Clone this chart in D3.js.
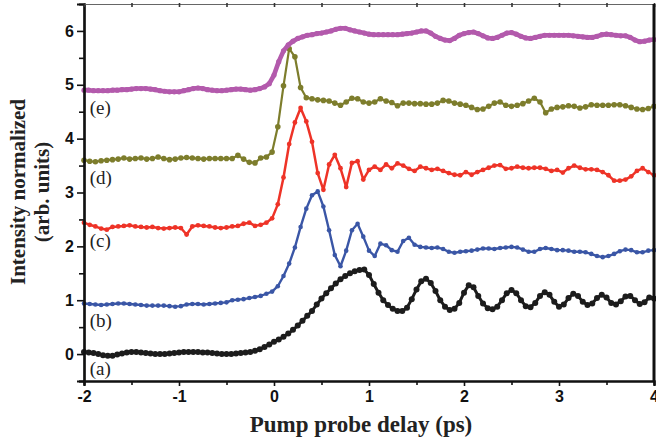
<!DOCTYPE html>
<html>
<head>
<meta charset="utf-8">
<script src="https://cdn.jsdelivr.net/npm/d3@7"></script>
<style>
    body { margin: 0; background: #fff; }
    svg { display: block; }
</style>
</head>
<body>
<div id="chart"></div>
<script>

// delay grids (ps) - each trace is sampled on a regular delay grid
const gridA = { start: -2, step: 0.05 };
const gridB = { start: -2, step: 0.06 };
const gridC = { start: -2, step: 0.06 };
const gridD = { start: -2, step: 0.06 };
const gridE = { start: -2, step: 0.05 };

// (a) black
const traceA = [
    0.04, 0.03, 0.02, 0.00, -0.02, -0.03, -0.03, -0.01, 0.01, 0.03,
    0.04, 0.04, 0.03, 0.02, 0.01, 0.00, 0.00, 0.00, 0.01, 0.02,
    0.03, 0.04, 0.04, 0.04, 0.04, 0.03, 0.03, 0.02, 0.01, 0.00,
    0.00, 0.00, 0.01, 0.02, 0.03, 0.04, 0.06, 0.09, 0.13, 0.18,
    0.23, 0.27, 0.32, 0.38, 0.45, 0.53, 0.62, 0.71, 0.80, 0.92,
    1.03, 1.13, 1.22, 1.31, 1.39, 1.45, 1.50, 1.54, 1.56, 1.57,
    1.47, 1.30, 1.14, 1.00, 0.91, 0.84, 0.80, 0.80, 0.86, 1.02,
    1.20, 1.35, 1.40, 1.32, 1.17, 1.00, 0.88, 0.82, 0.84, 0.95,
    1.14, 1.28, 1.24, 1.08, 0.94, 0.85, 0.83, 0.88, 1.00, 1.13,
    1.19, 1.13, 1.00, 0.89, 0.87, 0.95, 1.08, 1.15, 1.10, 0.97,
    0.88, 0.92, 1.04, 1.12, 1.08, 0.97, 0.91, 0.94, 1.04, 1.10,
    1.05, 0.95, 0.92, 0.98, 1.07, 1.08, 1.00, 0.93, 0.96, 1.05,
    1.03
];

// (b) blue
const traceB = [
    0.94, 0.93, 0.92, 0.91, 0.92, 0.93, 0.94, 0.94, 0.93, 0.92,
    0.91, 0.90, 0.90, 0.90, 0.90, 0.89, 0.88, 0.89, 0.92, 0.93,
    0.93, 0.92, 0.93, 0.94, 0.95, 0.96, 1.00, 1.01, 1.02, 1.04,
    1.06, 1.08, 1.12, 1.16, 1.26, 1.45, 1.68, 1.98, 2.36, 2.70,
    2.95, 3.02, 2.74, 2.30, 1.84, 1.63, 1.92, 2.30, 2.42, 2.18,
    1.92, 1.82, 2.05, 2.02, 1.93, 1.90, 2.10, 2.16, 2.03, 1.99,
    1.98, 1.97, 1.98, 1.95, 1.90, 1.88, 1.90, 1.91, 1.92, 1.94,
    1.96, 1.96, 1.95, 1.97, 1.98, 1.99, 1.98, 1.94, 1.90, 1.90,
    1.95, 1.97, 1.95, 1.93, 1.93, 1.92, 1.90, 1.90, 1.89, 1.86,
    1.82, 1.80, 1.82, 1.86, 1.91, 1.94, 1.93, 1.89, 1.89, 1.92,
    1.93
];

// (c) red
const traceC = [
    2.44, 2.40, 2.37, 2.33, 2.31, 2.36, 2.37, 2.38, 2.39, 2.37,
    2.36, 2.35, 2.36, 2.34, 2.33, 2.34, 2.35, 2.34, 2.22, 2.37,
    2.39, 2.38, 2.37, 2.35, 2.34, 2.35, 2.37, 2.38, 2.42, 2.44,
    2.38, 2.40, 2.44, 2.52, 2.78, 3.28, 3.90, 4.30, 4.57, 4.32,
    3.94, 3.36, 3.05, 3.52, 3.70, 3.45, 3.10, 3.55, 3.58, 3.24,
    3.42, 3.48, 3.42, 3.52, 3.45, 3.54, 3.50, 3.44, 3.40, 3.48,
    3.45, 3.42, 3.44, 3.40, 3.36, 3.33, 3.32, 3.38, 3.33, 3.38,
    3.42, 3.46, 3.50, 3.51, 3.44, 3.45, 3.48, 3.46, 3.45, 3.46,
    3.46, 3.44, 3.40, 3.42, 3.37, 3.45, 3.50, 3.46, 3.43, 3.43,
    3.42, 3.38, 3.32, 3.22, 3.22, 3.24, 3.30, 3.40, 3.45, 3.38,
    3.32
];

// (d) olive
const traceD = [
    3.60, 3.58, 3.57, 3.59, 3.60, 3.61, 3.62, 3.64, 3.62, 3.63,
    3.64, 3.62, 3.63, 3.66, 3.63, 3.61, 3.62, 3.64, 3.65, 3.64,
    3.63, 3.62, 3.63, 3.63, 3.63, 3.63, 3.63, 3.69, 3.62, 3.56,
    3.55, 3.64, 3.66, 3.75, 4.22, 4.98, 5.67, 5.52, 4.95, 4.76,
    4.74, 4.72, 4.71, 4.70, 4.66, 4.62, 4.68, 4.75, 4.74, 4.68,
    4.66, 4.68, 4.74, 4.70, 4.67, 4.61, 4.66, 4.66, 4.65, 4.65,
    4.64, 4.64, 4.66, 4.71, 4.70, 4.66, 4.64, 4.62, 4.58, 4.54,
    4.55, 4.60, 4.66, 4.68, 4.62, 4.60, 4.62, 4.65, 4.70, 4.75,
    4.68, 4.48, 4.55, 4.58, 4.59, 4.61, 4.60, 4.57, 4.59, 4.63,
    4.62, 4.62, 4.62, 4.63, 4.63, 4.61, 4.58, 4.55, 4.54, 4.56,
    4.60
];

// (e) magenta
const traceE = [
    4.90, 4.90, 4.89, 4.89, 4.89, 4.89, 4.90, 4.90, 4.91, 4.91,
    4.92, 4.93, 4.93, 4.93, 4.92, 4.91, 4.89, 4.88, 4.87, 4.87,
    4.87, 4.89, 4.91, 4.93, 4.94, 4.93, 4.91, 4.90, 4.89, 4.89,
    4.90, 4.91, 4.92, 4.92, 4.91, 4.90, 4.91, 4.93, 4.96, 5.02,
    5.18, 5.43, 5.63, 5.74, 5.81, 5.86, 5.89, 5.92, 5.93, 5.95,
    5.96, 5.98, 6.00, 6.03, 6.05, 6.05, 6.02, 6.00, 5.98, 5.96,
    5.94, 5.93, 5.93, 5.93, 5.93, 5.93, 5.93, 5.94, 5.95, 5.96,
    5.98, 6.00, 6.00, 5.96, 5.90, 5.86, 5.83, 5.82, 5.86, 5.92,
    5.95, 5.97, 5.98, 5.95, 5.91, 5.87, 5.86, 5.88, 5.92, 5.96,
    5.97, 5.94, 5.90, 5.87, 5.86, 5.88, 5.90, 5.92, 5.92, 5.92,
    5.92, 5.92, 5.92, 5.91, 5.90, 5.89, 5.88, 5.88, 5.90, 5.93,
    5.94, 5.93, 5.92, 5.91, 5.91, 5.88, 5.83, 5.80, 5.81, 5.83,
    5.84
];

const seriesLabels = ["(a)", "(b)", "(c)", "(d)", "(e)"];
const xTicks = [-2, -1, 0, 1, 2, 3, 4];
const yTicks = [0, 1, 2, 3, 4, 5, 6];


const width = 656;
const height = 444;

const svg = d3.select("#chart")
    .append("svg")
    .attr("width", width)
    .attr("height", height);

const x = d3.scaleLinear().domain([-2, 4]).range([84, 654]);
const y = d3.scaleLinear().domain([-0.5, 6.5]).range([381, 4]);


function toPoints(values, grid) {
    return values.map((v, i) => ({ t: grid.start + i * grid.step, v: v }));
}

const traces = [
    { name: "a", data: toPoints(traceA, gridA), color: "#1c1c1c", lw: 3, r: 3 },
    { name: "b", data: toPoints(traceB, gridB), color: "#3a56a6", lw: 2.4, r: 2.3 },
    { name: "c", data: toPoints(traceC, gridC), color: "#ee3327", lw: 2.5, r: 2.4 },
    { name: "d", data: toPoints(traceD, gridD), color: "#7d7d2c", lw: 2.2, r: 2.8 },
    { name: "e", data: toPoints(traceE, gridE), color: "#b35aac", lw: 4.6, r: 2.6 }
];

const line = d3.line()
    .x(d => x(d.t))
    .y(d => y(d.v));

const plot = svg.append("g").attr("id", "traces");

traces.forEach(tr => {
    const g = plot.append("g").attr("class", "trace-" + tr.name);

    g.append("path")
        .datum(tr.data)
        .attr("fill", "none")
        .attr("stroke", tr.color)
        .attr("stroke-width", tr.lw)
        .attr("stroke-linejoin", "round")
        .attr("d", line);

    g.selectAll("circle")
        .data(tr.data)
        .enter()
        .append("circle")
        .attr("cx", d => x(d.t))
        .attr("cy", d => y(d.v))
        .attr("r", tr.r)
        .attr("fill", tr.color);
});


// series labels, placed under each trace's baseline
const labelPos = [-0.39, 0.50, 1.99, 3.16, 4.46];

svg.append("g")
    .selectAll("text")
    .data(seriesLabels)
    .enter()
    .append("text")
    .attr("x", x(-1.94))
    .attr("y", (d, i) => y(labelPos[i]))
    .style("font-family", "'Liberation Serif', 'Times New Roman', serif")
    .style("font-size", "19px")
    .attr("fill", "#222")
    .text(d => d);


// axes
const tickFont = "'Liberation Sans', Arial, sans-serif";

const xAxis = svg.append("g")
    .attr("transform", `translate(0,${y(-0.5)})`)
    .call(d3.axisBottom(x).tickValues(xTicks).tickSize(5).tickPadding(5).tickFormat(d => String(d)));

const xMinor = svg.append("g")
    .attr("transform", `translate(0,${y(-0.5)})`)
    .call(d3.axisBottom(x).tickValues([-1.5, -0.5, 0.5, 1.5, 2.5, 3.5]).tickSize(4).tickFormat(""));

const yAxis = svg.append("g")
    .attr("transform", `translate(${x(-2)},0)`)
    .call(d3.axisLeft(y).tickValues(yTicks).tickSize(7).tickPadding(3).tickFormat(d => String(d)));

const yMinor = svg.append("g")
    .attr("transform", `translate(${x(-2)},0)`)
    .call(d3.axisLeft(y).tickValues([-0.5, 0.5, 1.5, 2.5, 3.5, 4.5, 5.5]).tickSize(5).tickFormat(""));

const topAxis = svg.append("g")
    .attr("transform", `translate(0,${y(6.5)})`)
    .call(d3.axisTop(x).tickValues(d3.range(-2, 4.01, 0.5)).tickSize(-3).tickFormat(""));

[xAxis, xMinor, yAxis, yMinor].forEach(a => {
    a.select(".domain").attr("stroke", "#111").attr("stroke-width", 2.2);
    a.selectAll(".tick line").attr("stroke", "#111").attr("stroke-width", 1.6);
});

topAxis.select(".domain").attr("stroke", "#666").attr("stroke-width", 1.2);
topAxis.selectAll(".tick line").attr("stroke", "#333").attr("stroke-width", 1.6)
    .attr("y1", -1);

[xAxis, yAxis].forEach(a => {
    a.selectAll(".tick text")
        .style("font-family", tickFont)
        .style("font-size", "16px")
        .style("font-weight", "bold")
        .attr("fill", "#111");
});

// right frame edge
svg.append("line")
    .attr("x1", x(4)).attr("x2", x(4))
    .attr("y1", y(6.5)).attr("y2", y(-0.5))
    .attr("stroke", "#111")
    .attr("stroke-width", 3);


// axis titles
svg.append("text")
    .attr("x", 361)
    .attr("y", 432)
    .attr("text-anchor", "middle")
    .style("font-family", "'Liberation Serif', 'Times New Roman', serif")
    .style("font-size", "23px")
    .style("font-weight", "bold")
    .attr("fill", "#222")
    .text("Pump probe delay (ps)");

const yTitle = svg.append("text")
    .attr("transform", "translate(0,192) rotate(-90)")
    .attr("text-anchor", "middle")
    .style("font-family", "'Liberation Serif', 'Times New Roman', serif")
    .style("font-size", "21px")
    .style("font-weight", "bold")
    .attr("fill", "#222");

yTitle.append("tspan").attr("x", 0).attr("y", 25).text("Intensity normalized");
yTitle.append("tspan").attr("x", 0).attr("y", 49).text("(arb. units)");

</script>
</body>
</html>
